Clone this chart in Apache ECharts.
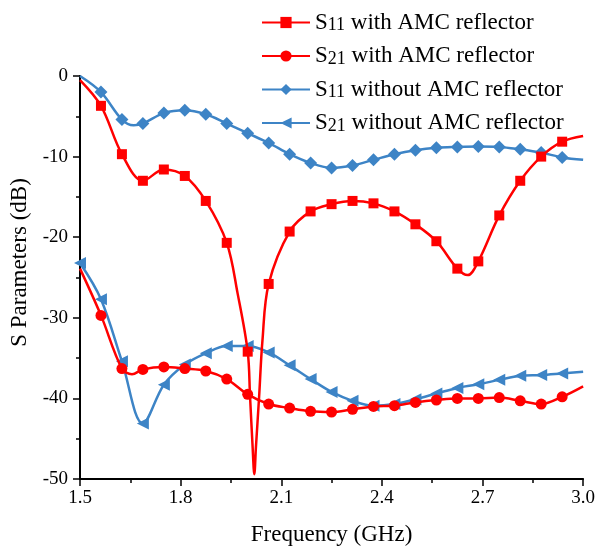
<!DOCTYPE html>
<html>
<head>
<meta charset="utf-8">
<script src="https://cdn.jsdelivr.net/npm/echarts@6/dist/echarts.min.js"></script>
<style>
html,body{margin:0;padding:0;background:#fff;}
#chart{width:598px;height:552px;}
</style>
</head>
<body>
<div id="chart"></div>
<script>
// Frequencies of the marker points (GHz)
const freq = [1.5,1.5625,1.625,1.6875,1.75,1.8125,1.875,1.9375,2.0,2.0625,2.125,2.1875,2.25,2.3125,2.375,2.4375,2.5,2.5625,2.625,2.6875,2.75,2.8125,2.875,2.9375,3.0];

// S11 with AMC reflector (dB) at marker frequencies
const s11Amc = [-0.5,-3.7,-9.7,-13.0,-11.6,-12.4,-15.5,-20.7,-34.2,-25.8,-19.3,-16.8,-15.9,-15.5,-15.8,-16.8,-18.4,-20.5,-23.9,-23.0,-17.3,-13.0,-10.0,-8.15,-7.45];
// extra curve points (no marker) for S11 with AMC
const s11AmcExtraF = [1.97,2.007,2.0146,2.0197,2.0246,2.034,2.044,2.656];
const s11AmcExtraV = [-27.0,-39.8,-46.0,-49.4,-46.0,-39.8,-32.8,-24.7];

// S21 with AMC reflector
const s21Amc = [-23.9,-29.7,-36.3,-36.4,-36.1,-36.3,-36.6,-37.6,-39.5,-40.7,-41.2,-41.6,-41.7,-41.35,-41.0,-40.9,-40.5,-40.2,-40.0,-40.0,-39.9,-40.3,-40.7,-39.8,-38.5];
const s21AmcExtraF = [1.655];
const s21AmcExtraV = [-37.0];

// S11 without AMC reflector
const s11No = [0,-2.0,-5.4,-5.9,-4.6,-4.25,-4.75,-5.9,-7.1,-8.3,-9.7,-10.8,-11.4,-11.1,-10.4,-9.7,-9.2,-8.9,-8.8,-8.75,-8.8,-9.1,-9.5,-10.1,-10.4];
const s11NoExtraF = [1.66];
const s11NoExtraV = [-6.1];

// S21 without AMC reflector
const s21No = [-23.2,-27.7,-35.4,-43.1,-38.3,-35.8,-34.4,-33.5,-33.5,-34.3,-35.9,-37.6,-39.2,-40.3,-40.9,-40.7,-40.1,-39.4,-38.7,-38.25,-37.7,-37.2,-37.1,-36.9,-36.7];
const s21NoExtraF = [];
const s21NoExtraV = [];

const seriesNames = ['S11 with AMC reflector','S21 with AMC reflector','S11 without AMC reflector','S21 without AMC reflector'];
const legendRich = ['{t|S}{s|11}{t| with AMC reflector}','{t|S}{s|21}{t| with AMC reflector}','{t|S}{s|11}{t| without AMC reflector}','{t|S}{s|21}{t| without AMC reflector}'];
const xTicks = [1.5,1.8,2.1,2.4,2.7,3.0];

const RED = '#ff0000';
const BLUE = '#3d84c6';
const FONT = '"Liberation Serif", "Times New Roman", serif';

function build(vals, exF, exV, firstMarker) {
  const pts = [];
  for (let i = 0; i < freq.length; i++) {
    const marker = (i > 0 || firstMarker) && i < freq.length - 1;
    const item = {value: [freq[i], vals[i]]};
    if (!marker) item.symbol = 'none';
    pts.push(item);
  }
  for (let j = 0; j < exF.length; j++) {
    pts.push({value: [exF[j], exV[j]], symbol: 'none'});
  }
  pts.sort((a, b) => a.value[0] - b.value[0]);
  return pts;
}

const leftTri = 'path://M0,5 L10,0 L10,10 Z';

const chart = echarts.init(document.getElementById('chart'), null, {renderer: 'canvas'});
chart.setOption({
  animation: false,
  backgroundColor: '#fff',
  grid: {left: 80, right: 10, top: 76, bottom: 73},
  legend: {
    orient: 'vertical',
    left: 256,
    top: 6,
    itemWidth: 48,
    itemHeight: 14,
    itemGap: 10,
    data: seriesNames,
    formatter: function (name) { return legendRich[seriesNames.indexOf(name)]; },
    textStyle: {
      fontFamily: FONT,
      color: '#000',
      rich: {
        t: {fontSize: 23, fontFamily: FONT, color: '#000', lineHeight: 24, verticalAlign: 'middle'},
        s: {fontSize: 18, fontFamily: FONT, color: '#000', lineHeight: 12, verticalAlign: 'bottom'}
      }
    }
  },
  xAxis: {
    type: 'value',
    min: 1.5, max: 3.0, interval: 0.3,
    name: 'Frequency (GHz)',
    nameLocation: 'middle',
    nameGap: 44,
    nameTextStyle: {fontFamily: FONT, fontSize: 23, color: '#000'},
    axisLine: {show: true, onZero: false, lineStyle: {color: '#000', width: 2}},
    axisTick: {show: true, inside: false, length: 7, lineStyle: {color: '#000', width: 1.5}},
    minorTick: {show: true, splitNumber: 2, length: 4, lineStyle: {color: '#000', width: 1.5}},
    splitLine: {show: false},
    axisLabel: {fontFamily: FONT, fontSize: 19, color: '#000', margin: 10,
      formatter: v => v.toFixed(1)}
  },
  yAxis: {
    type: 'value',
    min: -50, max: 0, interval: 10,
    name: 'S Parameters (dB)',
    nameLocation: 'middle',
    nameGap: 45,
    nameTextStyle: {fontFamily: FONT, fontSize: 23, color: '#000', padding: [0, 0, 0, 30]},
    axisLine: {show: true, onZero: false, lineStyle: {color: '#000', width: 2}},
    axisTick: {show: true, inside: false, length: 7, lineStyle: {color: '#000', width: 1.5}},
    minorTick: {show: true, splitNumber: 2, length: 4, lineStyle: {color: '#000', width: 1.5}},
    splitLine: {show: false},
    axisLabel: {fontFamily: FONT, fontSize: 19, color: '#000', margin: 12}
  },
  series: [
    {name: seriesNames[0], type: 'line', data: build(s11Amc, s11AmcExtraF, s11AmcExtraV, false),
     smooth: 0.35, symbol: 'rect', symbolSize: 10, showAllSymbol: true,
     lineStyle: {color: RED, width: 2.5}, itemStyle: {color: RED}, z: 4},
    {name: seriesNames[1], type: 'line', data: build(s21Amc, s21AmcExtraF, s21AmcExtraV, false),
     smooth: 0.35, symbol: 'circle', symbolSize: 11, showAllSymbol: true,
     lineStyle: {color: RED, width: 2.5}, itemStyle: {color: RED}, z: 3},
    {name: seriesNames[2], type: 'line', data: build(s11No, s11NoExtraF, s11NoExtraV, false),
     smooth: 0.35, symbol: 'diamond', symbolSize: 13, showAllSymbol: true,
     lineStyle: {color: BLUE, width: 2.5}, itemStyle: {color: BLUE}, z: 2},
    {name: seriesNames[3], type: 'line', data: build(s21No, s21NoExtraF, s21NoExtraV, true),
     smooth: 0.35, symbol: leftTri, symbolSize: 12, showAllSymbol: true,
     lineStyle: {color: BLUE, width: 2.5}, itemStyle: {color: BLUE}, z: 2}
  ]
});
</script>
</body>
</html>
